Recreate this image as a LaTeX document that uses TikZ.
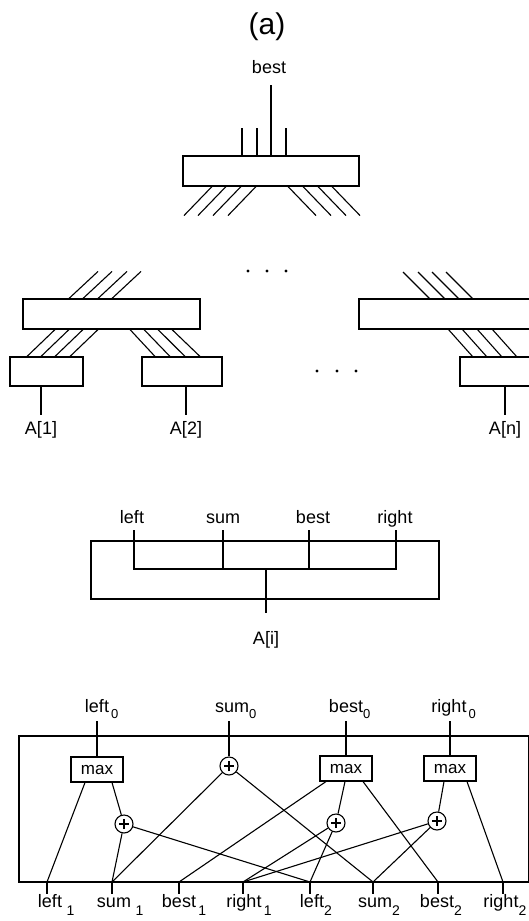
\documentclass[tikz,border=0pt]{standalone}
\usepackage{fontspec}
\setmainfont{Liberation Sans}
\begin{document}
\begin{tikzpicture}[x=1pt,y=-1pt,line width=1.1pt,
  lab/.style={font=\fontsize{18}{20}\selectfont,inner sep=0pt,anchor=base},
  boxx/.style={draw,inner sep=0pt},
  mx/.style={draw,minimum width=52pt,minimum height=25pt,inner sep=0pt,font=\fontsize{17}{18}\selectfont},
  pl/.style={draw,circle,minimum size=18pt,inner sep=0pt,
    path picture={\draw[line width=1.2pt] ([xshift=-5pt]path picture bounding box.center) -- ([xshift=5pt]path picture bounding box.center)
                  ([yshift=-5pt]path picture bounding box.center) -- ([yshift=5pt]path picture bounding box.center);}}
]
\useasboundingbox (0,0) rectangle (529,921);
\newcommand{\subl}[2]{#1\rlap{\raisebox{-6pt}{\fontsize{13}{14}\selectfont #2}}}
\newcommand{\subb}[2]{#1\rlap{\raisebox{-8pt}{\fontsize{14}{14}\selectfont #2}}}

% ---------- top ----------
\node[lab,font=\fontsize{30}{32}\selectfont] (ta) at (267,34) {(a)};
\node[lab] (tbest) at (269,73) {best};
\node[boxx,minimum width=176pt,minimum height=30pt] (T) at (271,171) {};
\coordinate (tbe) at (271,85);
\draw (T.north) -- (tbe);
\foreach \x in {242,257,286} \draw (\x,128) -- (\x,0 |- T.north);
\foreach \x in {212,226,241,256} \draw (\x,0 |- T.south) -- ++(-28,29);
\foreach \x in {288,303,318,332} \draw (\x,0 |- T.south) -- ++(28,29);
\foreach \x in {248,267,286} \fill (\x,271) circle[radius=1.7pt];

% ---------- left middle ----------
\node[boxx,minimum width=177pt,minimum height=30pt] (ML) at (111.5,314) {};
\foreach \x in {69,83,98,112} \draw (\x,0 |- ML.north) -- ++(29,-27);
\node[boxx,minimum width=73pt,minimum height=29pt] (A1) at (46.5,371.5) {};
\node[boxx,minimum width=80pt,minimum height=29pt] (A2) at (182,371.5) {};
\foreach \a/\b in {27/55,41/69,55/83,70/98} \draw (\a,0 |- A1.north) -- (\b,0 |- ML.south);
\foreach \a/\b in {155/130,170/144,185/158,200/172} \draw (\a,0 |- A2.north) -- (\b,0 |- ML.south);
\node[lab] (lA1) at (41,434) {A[1]};
\node[lab] (lA2) at (186,434) {A[2]};
\draw (41,0 |- A1.south) -- (41,415);
\draw (186,0 |- A2.south) -- (186,415);

% ---------- right middle ----------
\draw (540,299) -| (359,329) -- (540,329);
\foreach \x in {430,445,459,473} \draw (\x,299) -- ++(-27,-27);
\foreach \x in {448,462,477,492} \draw (\x,329) -- ++(25,28);
\draw (540,357) -| (460,386) -- (540,386);
\draw (505,386) -- (505,415);
\node[lab] (lAn) at (505,434) {A[n]};
\foreach \x in {317,337,356} \fill (\x,371) circle[radius=1.7pt];

% ---------- A[i] block ----------
\node[boxx,minimum width=348pt,minimum height=58pt] (AB) at (265,570) {};
\node[lab] (ml) at (132,523) {left};
\node[lab] (ms) at (223,523) {sum};
\node[lab] (mb) at (313,523) {best};
\node[lab] (mr) at (395,523) {right};
\coordinate (ibar) at (266,569);
\draw (134,530) -- (134,569) -- (396,569) -- (396,530);
\draw (223,530) -- (223,569);
\draw (309,530) -- (309,569);
\draw (ibar) -- (266,613);
\node[lab] (mAi) at (266,644) {A[i]};

% ---------- combine block ----------
\draw (529,736) -- (19,736) -- (19,882) -- (529,882);
\draw (528.5,736) -- (528.5,882);
\node[lab] (t0) at (97,712) {\subl{left}{\,0}};
\node[lab] (t1) at (232,712) {\subl{sum}{0}};
\node[lab] (t2) at (346,712) {\subl{best}{0}};
\node[lab] (t3) at (449,712) {\subl{right}{\,0}};

\node[mx] (M1) at (97,769.5) {max};
\node[mx] (M3) at (346,768.5) {max};
\node[mx] (M4) at (450,768.5) {max};
\node[pl] (S)  at (229,766) {};
\node[pl] (P1) at (124,824) {};
\node[pl] (P3) at (336,823) {};
\node[pl] (P4) at (437,821) {};

\draw (97,721) -- (M1.north);
\draw (229,721) -- (S);
\draw (346,721) -- (M3.north);
\draw (450,721) -- (M4.north);

\foreach \n/\x in {1/47,2/112,3/179,4/243,5/310,6/373,7/438,8/503} {
  \coordinate (b\n) at (\x,882);
  \draw (b\n) -- (\x,894);
}

\draw (85,0 |- M1.south) -- (b1);
\draw (112,0 |- M1.south) -- (P1);
\draw (P1) -- (b2);
\draw (P1) -- (b5);
\draw (S) -- (b2);
\draw (S) -- (b6);
\draw (326,0 |- M3.south) -- (b3);
\draw (345,0 |- M3.south) -- (P3);
\draw (363,0 |- M3.south) -- (b7);
\draw (P3) -- (b4);
\draw (P3) -- (b5);
\draw (444,0 |- M4.south) -- (P4);
\draw (467,0 |- M4.south) -- (b8);
\draw (P4) -- (b4);
\draw (P4) -- (b6);

\node[lab] (u1) at (50,907) {\subb{left}{\,\,1}};
\node[lab] (u2) at (114,907) {\subb{sum}{\,\,1}};
\node[lab] (u3) at (179,907) {\subb{best}{\,1}};
\node[lab] (u4) at (244,907) {\subb{right}{\,1}};
\node[lab] (u5) at (312,907) {\subb{left}{2}};
\node[lab] (u6) at (375,907) {\subb{sum}{2}};
\node[lab] (u7) at (437,907) {\subb{best}{2}};
\node[lab] (u8) at (501,907) {\subb{right}{2}};
\end{tikzpicture}
\end{document}
